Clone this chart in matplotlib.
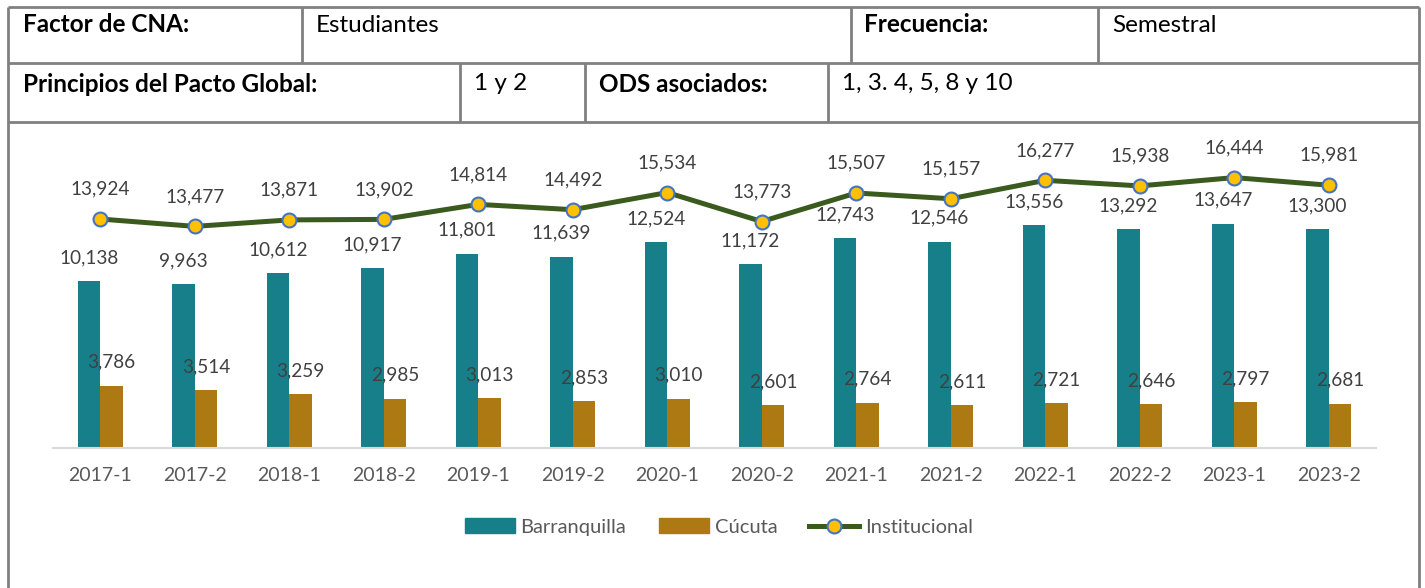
import matplotlib
matplotlib.use("Agg")
import matplotlib.pyplot as plt
from matplotlib.lines import Line2D
from matplotlib.patches import Patch
import numpy as np

plt.rcParams["font.family"] = ["Lato", "DejaVu Sans"]

# --- data ---
periodos = ["2017-1", "2017-2", "2018-1", "2018-2", "2019-1", "2019-2", "2020-1",
            "2020-2", "2021-1", "2021-2", "2022-1", "2022-2", "2023-1", "2023-2"]
barranquilla = [10138, 9963, 10612, 10917, 11801, 11639, 12524,
                11172, 12743, 12546, 13556, 13292, 13647, 13300]
cucuta = [3786, 3514, 3259, 2985, 3013, 2853, 3010,
          2601, 2764, 2611, 2721, 2646, 2797, 2681]
institucional = [13924, 13477, 13871, 13902, 14814, 14492, 15534,
                 13773, 15507, 15157, 16277, 15938, 16444, 15981]

# table cells: (text, x_px, y_px, bold)
celdas = [
    ("Factor de CNA:", 23, 25, True),
    ("Estudiantes", 316, 25, False),
    ("Frecuencia:", 864, 25, True),
    ("Semestral", 1112, 25, False),
    ("Principios del Pacto Global:", 23, 84, True),
    ("1 y 2", 474, 84, False),
    ("ODS asociados:", 599, 84, True),
    ("1, 3. 4, 5, 8 y 10", 842, 84, False),
]

C_BAQ = "#177F89"
C_CUC = "#AD7913"
C_LINE = "#3A5A1E"
C_MARK = "#FFC000"
C_MEDGE = "#4472C4"
C_LBL = "#404040"
C_TICK = "#595959"
C_GRID = "#808080"

W, H = 1425, 588
fig = plt.figure(figsize=(W / 100, H / 100), dpi=100)

# background axes in pixel coords for the table frame
bg = fig.add_axes([0, 0, 1, 1])
bg.set_xlim(0, W)
bg.set_ylim(H, 0)
bg.axis("off")

lw = 2.0
for y in (7, 63, 122):
    bg.plot([8, 1419], [y, y], color=C_GRID, lw=lw, solid_capstyle="butt")
for x in (8, 1419):
    bg.plot([x, x], [7, H], color=C_GRID, lw=lw, solid_capstyle="butt")
for x in (302, 851, 1098):
    bg.plot([x, x], [7, 63], color=C_GRID, lw=lw, solid_capstyle="butt")
for x in (460, 585, 828):
    bg.plot([x, x], [63, 122], color=C_GRID, lw=lw, solid_capstyle="butt")

for txt, x, y, bold in celdas:
    bg.text(x, y, txt, fontsize=17.5, fontweight="bold" if bold else "normal",
            color="black", ha="left", va="center")

# chart axes
x0, x1 = 53, 1376
ybase, ytop = 448, 152
ax = fig.add_axes([x0 / W, (H - ybase) / H, (x1 - x0) / W, (ybase - ytop) / H])
ax.set_xlim(-0.5, len(periodos) - 0.5)
ax.set_ylim(0, 18000)

x = np.arange(len(periodos))
bw = 0.24
ax.bar(x - bw / 2, barranquilla, width=bw, color=C_BAQ, label="Barranquilla", zorder=2)
ax.bar(x + bw / 2, cucuta, width=bw, color=C_CUC, label="Cúcuta", zorder=2)
ax.plot(x, institucional, color=C_LINE, lw=3.6, marker="o", markersize=10,
        markerfacecolor=C_MARK, markeredgecolor=C_MEDGE, markeredgewidth=1.5,
        label="Institucional", zorder=3)

fs = 13.7
for i in range(len(periodos)):
    ax.annotate(f"{barranquilla[i]:,}", (x[i] - bw / 2, barranquilla[i]),
                xytext=(0, 17), textcoords="offset points", ha="center", va="center",
                fontsize=fs, color=C_LBL)
    ax.annotate(f"{cucuta[i]:,}", (x[i] + bw / 2, cucuta[i]),
                xytext=(0, 17), textcoords="offset points", ha="center", va="center",
                fontsize=fs, color=C_LBL)
    ax.annotate(f"{institucional[i]:,}", (x[i], institucional[i]),
                xytext=(0, 21.5), textcoords="offset points", ha="center", va="center",
                fontsize=fs, color=C_LBL)

for s in ("top", "right", "left"):
    ax.spines[s].set_visible(False)
ax.spines["bottom"].set_color("#D9D9D9")
ax.spines["bottom"].set_linewidth(1.5)
ax.set_yticks([])
ax.set_xticks(x)
ax.set_xticklabels(periodos, fontsize=14, color=C_TICK)
ax.tick_params(axis="x", length=0, pad=14)
ax.patch.set_alpha(0)

handles = [
    Patch(color=C_BAQ, label="Barranquilla"),
    Patch(color=C_CUC, label="Cúcuta"),
    Line2D([0], [0], color=C_LINE, lw=3.6, marker="o", markersize=10,
           markerfacecolor=C_MARK, markeredgecolor=C_MEDGE, markeredgewidth=1.5,
           label="Institucional"),
]
leg = fig.legend(handles=handles, loc="center", bbox_to_anchor=(719 / W, (H - 527) / H),
                 ncol=3, frameon=False, fontsize=14.5, handlelength=2.48,
                 handletextpad=0.3, columnspacing=1.6)
for t in leg.get_texts():
    t.set_color(C_TICK)

fig.savefig("out.png", dpi=100)
